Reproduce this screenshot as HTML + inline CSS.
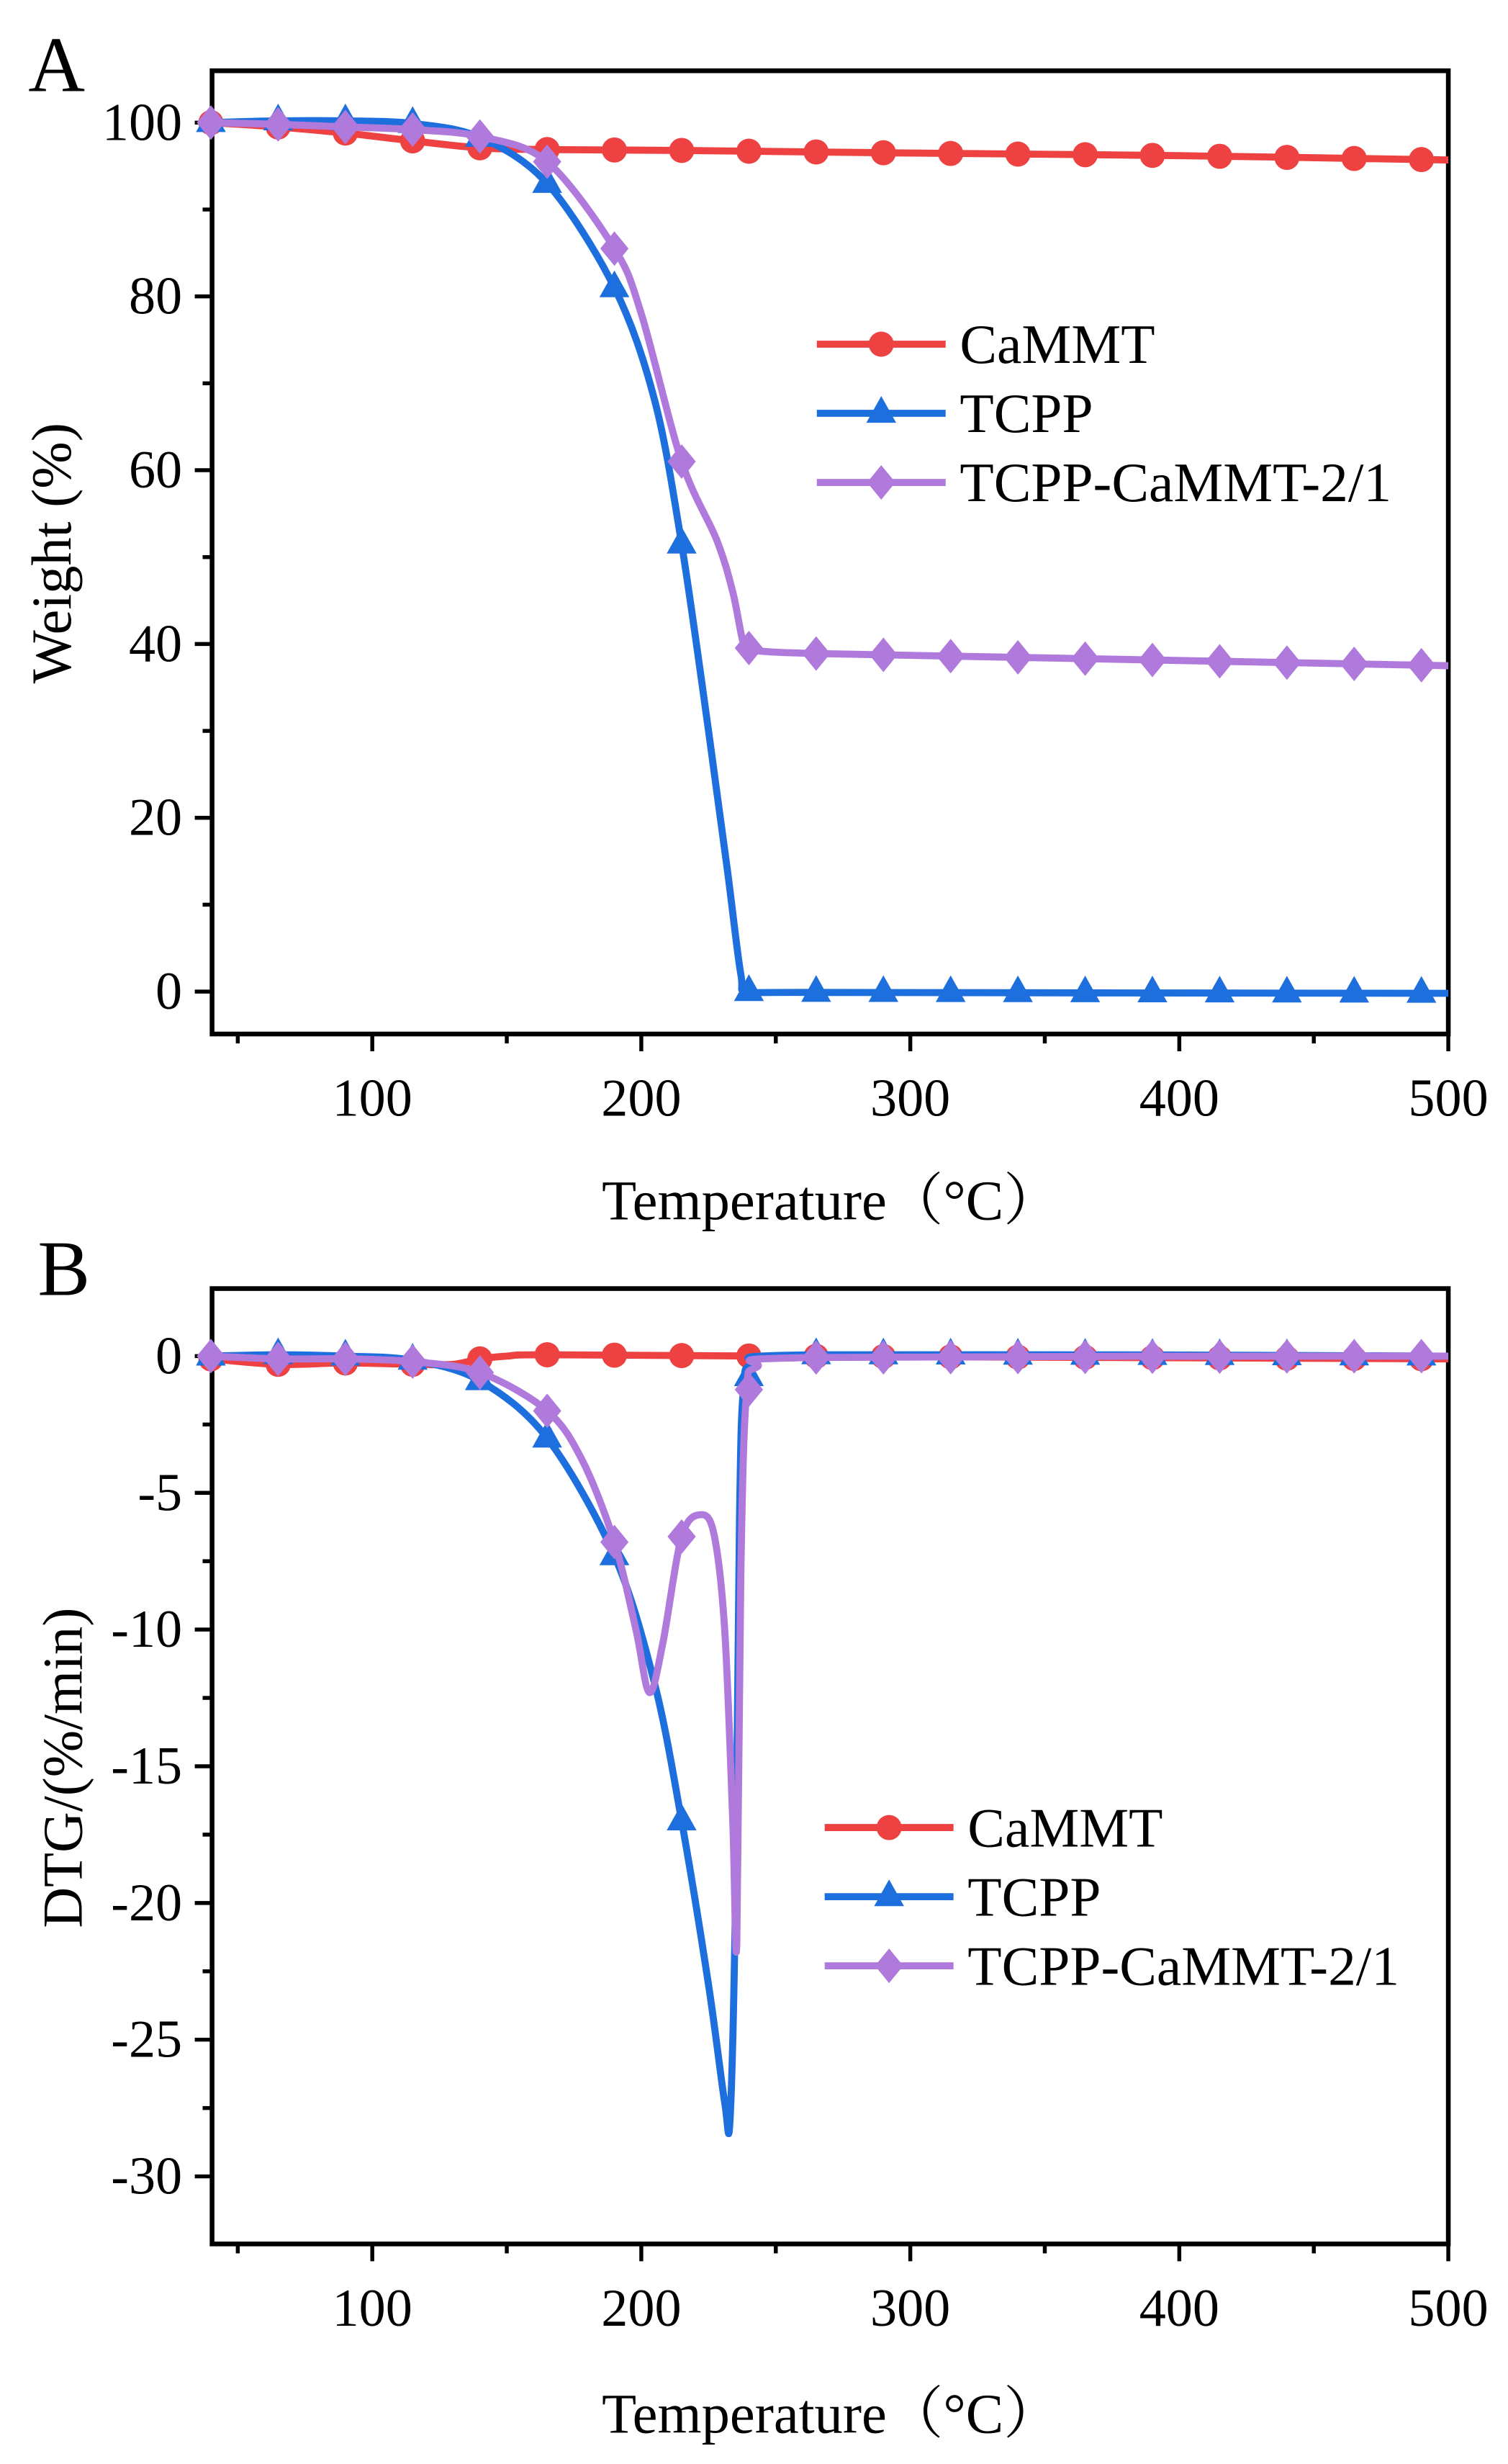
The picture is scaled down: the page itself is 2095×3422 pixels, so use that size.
<!DOCTYPE html>
<html><head><meta charset="utf-8"><style>
html,body{margin:0;padding:0;background:#fff}
svg{display:block}
text{font-family:"Liberation Serif","Noto Serif CJK SC",serif;fill:#000}
</style></head><body>
<svg id="s" width="2095" height="3422" viewBox="0 0 960 1568" xmlns="http://www.w3.org/2000/svg">
<text x="18" y="58" font-size="50">A</text>
<text x="24" y="824" font-size="50">B</text>
<g id="g"></g>
<text x="529" y="776" font-size="36" text-anchor="middle">Temperature（°C）</text>
<text x="529" y="1548" font-size="36" text-anchor="middle">Temperature（°C）</text>
<text transform="translate(45,352) rotate(-90)" font-size="36" text-anchor="middle">Weight (%)</text>
<text transform="translate(52,1125) rotate(-90)" font-size="36" text-anchor="middle">DTG/(%/min)</text>
</svg>
<script>
var NS="http://www.w3.org/2000/svg",g=document.getElementById("g");
function el(t,a,txt){var e=document.createElementNS(NS,t);for(var k in a)e.setAttribute(k,a[k]);if(txt!=null)e.textContent=txt;g.appendChild(e);return e;}
var C={r:"#EE4242",b:"#1D6FDE",p:"#B07ADC"};
function X(t){return 237+(t-100)*685/400;}
function interp(d,t){for(var i=0;i<d.length-1;i++){if(t>=d[i][0]&&t<=d[i+1][0]){var f=(t-d[i][0])/(d[i+1][0]-d[i][0]);return d[i][1]+f*(d[i+1][1]-d[i][1]);}}return d[d.length-1][1];}
function path(pts){var s="M"+pts[0][0]+","+pts[0][1];for(var i=0;i<pts.length-1;i++){var p0=pts[Math.max(i-1,0)],p1=pts[i],p2=pts[i+1],p3=pts[Math.min(i+2,pts.length-1)];var t=0.16;s+=" C"+(p1[0]+(p2[0]-p0[0])*t)+","+(p1[1]+(p2[1]-p0[1])*t)+" "+(p2[0]-(p3[0]-p1[0])*t)+","+(p2[1]-(p3[1]-p1[1])*t)+" "+p2[0]+","+p2[1];}return s;}
function marker(type,x,y,c){
 if(type=="o")el("circle",{cx:x,cy:y,r:8,fill:c});
 else if(type=="t")el("polygon",{points:(x)+","+(y-11)+" "+(x+9.5)+","+(y+6)+" "+(x-9.5)+","+(y+6),fill:c});
 else el("polygon",{points:x+","+(y-11)+" "+(x+9)+","+y+" "+x+","+(y+11)+" "+(x-9)+","+y,fill:c});}
function series(d,Y,type,c){
 var pts=d.map(function(p){return [X(p[0]),Y(p[1])];});
 el("path",{d:path(pts),fill:"none",stroke:c,"stroke-width":4.5,"stroke-linejoin":"round"});
 for(var t=40;t<=490;t+=25)marker(type,X(t),Y(interp(d,t)),c);}
function axes(top,bot,Y,ymaj,ymin,lblY){
 el("rect",{x:135,y:top,width:787,height:bot-top,fill:"none",stroke:"#000","stroke-width":3});
 for(var t=100;t<=500;t+=100){el("line",{x1:X(t),y1:bot,x2:X(t),y2:bot+11,stroke:"#000","stroke-width":2.5});el("text",{x:X(t),y:lblY,"font-size":34,"text-anchor":"middle"},t);}
 for(var t=50;t<500;t+=100)el("line",{x1:X(t),y1:bot,x2:X(t),y2:bot+6,stroke:"#000","stroke-width":2.5});
 ymaj.forEach(function(v){el("line",{x1:124,y1:Y(v),x2:135,y2:Y(v),stroke:"#000","stroke-width":2.5});el("text",{x:116,y:Y(v)+11,"font-size":34,"text-anchor":"end"},v);});
 ymin.forEach(function(v){el("line",{x1:129,y1:Y(v),x2:135,y2:Y(v),stroke:"#000","stroke-width":2.5});});}
function legend(x,y0,items){items.forEach(function(it,i){var y=y0+i*44;el("line",{x1:x,y1:y,x2:x+82,y2:y,stroke:it[1],"stroke-width":4.5});marker(it[2],x+41,y,it[1]);el("text",{x:x+91,y:y+12,"font-size":35.5},it[0]);});}
// Panel A
var YA=function(v){return 631-v*5.53;};
axes(45,658,YA,[0,20,40,60,80,100],[10,30,50,70,90],710);
series([[40,100],[65,99.5],[90,98.8],[115,97.9],[140,97.1],[165,96.9],[215,96.8],[300,96.5],[400,96.2],[500,95.7]],YA,"o",C.r);
series([[40,100],[65,100.2],[90,100.2],[115,99.9],[140,98.3],[165,93],[190,81],[205,68],[215,51.5],[225,30],[232,14],[237,2],[240,0],[265,-0.1],[500,-0.2]],YA,"t",C.b);
series([[40,100],[65,99.8],[90,99.5],[115,99.2],[140,98.4],[165,95.5],[190,85.5],[200,78],[215,61],[228,52],[234,46],[238,40],[241,39.3],[265,38.9],[350,38.4],[500,37.5]],YA,"d",C.p);
legend(520,219,[["CaMMT",C.r,"o"],["TCPP",C.b,"t"],["TCPP-CaMMT-2/1",C.p,"d"]]);
// Panel B
var YB=function(v){return 863-v*17.4;};
axes(820,1428,YB,[0,-5,-10,-15,-20,-25,-30],[-2.5,-7.5,-12.5,-17.5,-22.5,-27.5],1480);
series([[40,-0.1],[65,-0.3],[90,-0.25],[115,-0.3],[130,-0.3],[140,-0.1],[150,0],[165,0.05],[250,0],[500,-0.1]],YB,"o",C.r);
series([[40,0],[65,0.05],[90,0],[115,-0.15],[140,-0.9],[165,-3],[190,-7.3],[205,-12],[215,-17],[225,-23],[231,-27.3],[233,-27.9],[235,-20],[236.5,-6],[238,-1.2],[242,-0.3],[265,0.05],[500,0]],YB,"t",C.b);
series([[40,0],[65,-0.1],[90,-0.1],[115,-0.2],[140,-0.6],[165,-2],[178,-3.8],[190,-6.8],[198,-10],[203,-12.3],[208,-10.5],[215,-6.6],[222,-5.8],[227,-6.5],[231,-10],[234,-17],[235.5,-21.5],[237,-8],[239,-1.5],[243,-0.4],[265,-0.05],[500,0]],YB,"d",C.p);
legend(525,1163,[["CaMMT",C.r,"o"],["TCPP",C.b,"t"],["TCPP-CaMMT-2/1",C.p,"d"]]);
</script>
</body></html>
